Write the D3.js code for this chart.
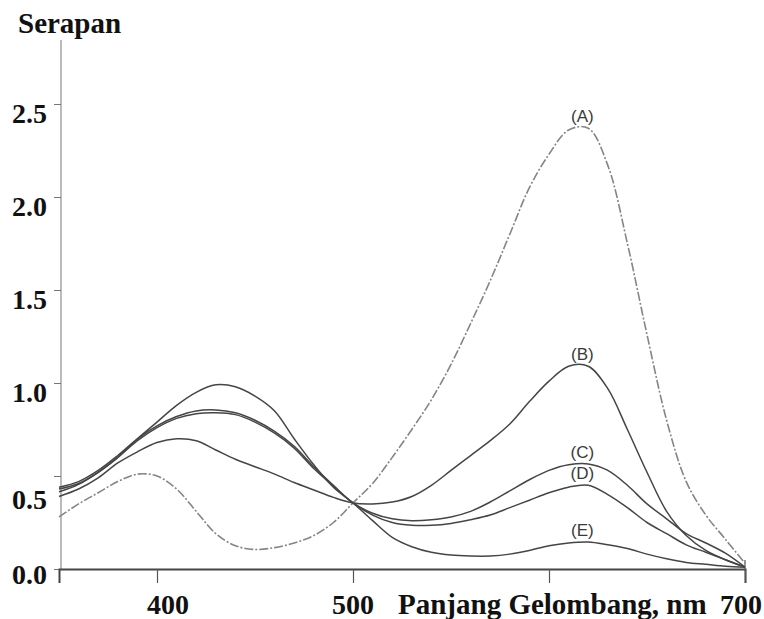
<!DOCTYPE html>
<html>
<head>
<meta charset="utf-8">
<script src="https://cdn.jsdelivr.net/npm/d3@7"></script>
<style>
  body { margin: 0; background: #fff; }
  svg { display: block; }
</style>
</head>
<body>
<div id="chart"></div>
<script>
// wavelength grid (nm) and absorbance
const wavelengths = [350, 360, 370, 380, 390, 400, 410, 420, 430, 440, 450, 460,
  470, 480, 490, 500, 510, 520, 530, 540, 550, 560, 570, 580, 590, 600, 610, 620,
  630, 640, 650, 660, 670, 680, 690, 700];

const serapanA = [0.28, 0.35, 0.41, 0.47, 0.51, 0.50, 0.43, 0.31, 0.19, 0.125, 0.105, 0.115,
  0.14, 0.18, 0.25, 0.355, 0.46, 0.60, 0.75, 0.91, 1.10, 1.32, 1.55, 1.80, 2.05, 2.23, 2.36, 2.37,
  2.17, 1.75, 1.26, 0.80, 0.47, 0.29, 0.16, 0.03];
const serapanB = [0.39, 0.43, 0.49, 0.57, 0.63, 0.68, 0.70, 0.69, 0.64, 0.59, 0.55, 0.51,
  0.465, 0.425, 0.385, 0.355, 0.35, 0.36, 0.39, 0.45, 0.53, 0.61, 0.69, 0.78, 0.90, 1.01, 1.09, 1.09,
  0.97, 0.75, 0.52, 0.31, 0.18, 0.10, 0.05, 0.01];
const serapanC = [0.44, 0.47, 0.53, 0.61, 0.70, 0.77, 0.82, 0.85, 0.855, 0.84, 0.80, 0.74,
  0.66, 0.55, 0.45, 0.355, 0.30, 0.27, 0.26, 0.265, 0.28, 0.31, 0.36, 0.42, 0.48, 0.53, 0.56, 0.565,
  0.53, 0.45, 0.35, 0.27, 0.19, 0.14, 0.085, 0.01];
const serapanD = [0.43, 0.46, 0.52, 0.60, 0.69, 0.76, 0.81, 0.835, 0.84, 0.83, 0.79, 0.73,
  0.65, 0.54, 0.445, 0.355, 0.29, 0.25, 0.235, 0.235, 0.245, 0.265, 0.29, 0.33, 0.37, 0.41, 0.44, 0.45,
  0.40, 0.33, 0.25, 0.19, 0.13, 0.09, 0.05, 0.01];
const serapanE = [0.415, 0.455, 0.52, 0.60, 0.70, 0.79, 0.88, 0.95, 0.99, 0.98, 0.93, 0.85,
  0.70, 0.56, 0.44, 0.355, 0.26, 0.17, 0.12, 0.09, 0.075, 0.07, 0.07, 0.08, 0.10, 0.125, 0.14, 0.145,
  0.13, 0.11, 0.08, 0.055, 0.035, 0.025, 0.015, 0.01];

const seriesNames = ['(A)', '(B)', '(C)', '(D)', '(E)'];
const yTicks = [0, 0.5, 1.0, 1.5, 2.0, 2.5];
const xTicks = [400, 500, 600, 700];
const xTickLabels = ['400', '500', '', '700'];

const width = 764;
const height = 619;

const svg = d3.select('#chart')
  .append('svg')
  .attr('width', width)
  .attr('height', height);

svg.append('rect')
  .attr('width', width)
  .attr('height', height)
  .attr('fill', '#fff');

const x = d3.scaleLinear()
  .domain([350, 700])
  .range([59, 745]);
const y = d3.scaleLinear()
  .domain([0, 2.5])
  .range([569, 104]);

const serif = '"Liberation Serif", "Times New Roman", serif';

// y axis
const yAxis = svg.append('g')
  .attr('transform', 'translate(61,0)')
  .call(d3.axisLeft(y).tickValues(yTicks).tickSize(7).tickFormat(d3.format('.1f')));
yAxis.select('.domain').remove();
yAxis.selectAll('line').attr('stroke', '#777');
yAxis.selectAll('text')
  .attr('x', -14)
  .attr('dy', d => d === 0 ? '0.5em' : (d === 0.5 ? '1.15em' : '0.65em'))
  .attr('fill', '#111')
  .style('font-family', serif)
  .style('font-weight', 'bold')
  .style('font-size', '28px');

svg.append('line')
  .attr('x1', 61).attr('x2', 61)
  .attr('y1', 40).attr('y2', y(0))
  .attr('stroke', '#777')
  .attr('stroke-width', 1);

// x axis
const xAxis = svg.append('g')
  .attr('transform', `translate(0,${y(0)})`)
  .call(d3.axisBottom(x).tickValues(xTicks).tickSize(14).tickFormat(''));
xAxis.select('.domain')
  .attr('stroke', '#444')
  .attr('stroke-width', 2);
xAxis.selectAll('line').attr('stroke', '#555').attr('stroke-width', 1.2);

svg.append('line')
  .attr('x1', x(700)).attr('x2', x(700))
  .attr('y1', y(0) - 9).attr('y2', y(0))
  .attr('stroke', '#555')
  .attr('stroke-width', 1.2);

svg.append('g')
  .selectAll('text')
  .data(xTicks)
  .join('text')
  .attr('x', (d, i) => x(d) + (i === 0 ? 11 : (i === 3 ? -4 : 0)))
  .attr('y', 614)
  .attr('text-anchor', 'middle')
  .attr('fill', '#111')
  .style('font-family', serif)
  .style('font-weight', 'bold')
  .style('font-size', '28px')
  .text((d, i) => xTickLabels[i]);

svg.append('text')
  .attr('x', 398)
  .attr('y', 614)
  .attr('fill', '#111')
  .style('font-family', serif)
  .style('font-weight', 'bold')
  .style('font-size', '29px')
  .text('Panjang Gelombang, nm');

svg.append('text')
  .attr('x', 18)
  .attr('y', 33)
  .attr('fill', '#111')
  .style('font-family', serif)
  .style('font-weight', 'bold')
  .style('font-size', '29px')
  .text('Serapan');

// spectra
const allSeries = [serapanA, serapanB, serapanC, serapanD, serapanE];
const line = d3.line()
  .x((d, i) => x(wavelengths[i]))
  .y(d => y(d))
  .curve(d3.curveCatmullRom.alpha(0.5));

svg.append('g')
  .selectAll('path')
  .data(allSeries)
  .join('path')
  .attr('d', line)
  .attr('fill', 'none')
  .attr('stroke', (d, i) => i === 0 ? '#858585' : '#454545')
  .attr('stroke-width', (d, i) => i === 0 ? 1.6 : 1.5)
  .attr('stroke-dasharray', (d, i) => i === 0 ? '9,2,2,2' : null);

// labels above the long-wavelength peak of each curve
svg.append('g')
  .selectAll('text')
  .data(allSeries)
  .join('text')
  .attr('x', x(617))
  .attr('y', d => y(d3.max(d.filter((v, i) => wavelengths[i] > 550))) - 6)
  .attr('text-anchor', 'middle')
  .attr('fill', '#3a3a3a')
  .style('font-family', '"Liberation Sans", Arial, sans-serif')
  .style('font-size', '17px')
  .text((d, i) => seriesNames[i]);
</script>
</body>
</html>
